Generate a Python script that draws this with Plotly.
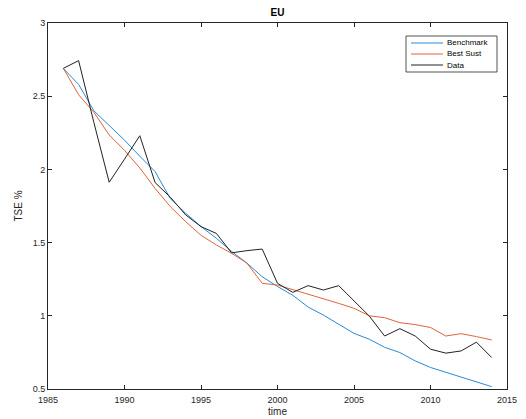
import plotly.graph_objects as go

years = list(range(1986, 2015))
benchmark = [2.69, 2.58, 2.40, 2.30, 2.20, 2.09, 1.985, 1.80, 1.70, 1.61, 1.53, 1.44, 1.36,
             1.267, 1.20, 1.14, 1.06, 1.005, 0.945, 0.88, 0.84, 0.785, 0.749, 0.692,
             0.647, 0.613, 0.584, 0.55, 0.516]
best_sust = [2.69, 2.51, 2.39, 2.235, 2.13, 2.01, 1.87, 1.745, 1.643, 1.55, 1.484, 1.427, 1.36,
             1.222, 1.21, 1.18, 1.149, 1.12, 1.085, 1.051, 1.0, 0.987, 0.953, 0.94,
             0.92, 0.862, 0.878, 0.858, 0.835]
data = [2.69, 2.743, 2.32, 1.912, 2.07, 2.23, 1.91, 1.81, 1.689, 1.609, 1.563, 1.43, 1.445,
        1.456, 1.222, 1.16, 1.206, 1.176, 1.206, 1.105, 0.998, 0.862, 0.912, 0.862,
        0.772, 0.745, 0.76, 0.82, 0.715]

series_names = ["Benchmark", "Best Sust", "Data"]
series_colors = ["#2a8ad4", "#E0643A", "#222222"]

x_ticks = [1985, 1990, 1995, 2000, 2005, 2010, 2015]
y_ticks = [0.5, 1, 1.5, 2, 2.5, 3]
y_tick_text = ["0.5", "1", "1.5", "2", "2.5", "3"]

fig = go.Figure()
for name, vals, col in zip(series_names, [benchmark, best_sust, data], series_colors):
    fig.add_trace(go.Scatter(x=years, y=vals, mode="lines", name=name,
                             line=dict(color=col, width=1), showlegend=False))

axis_common = dict(showgrid=False, zeroline=False, showline=True, linecolor="#262626",
                   linewidth=1, mirror="ticks", ticks="inside", ticklen=4, automargin=False,
                   tickcolor="#262626", tickfont=dict(size=9, color="#262626",
                                                      family="Liberation Sans, Arial"))

# compact MATLAB-style legend box (pixel layout -> paper coords)
L, R, T, B = 48, 507, 23, 389
def px(x):
    return (x - L) / (R - L)
def py(y):
    return (B - y) / (B - T)

shapes = [dict(type="rect", xref="paper", yref="paper", x0=px(406), x1=px(497),
               y0=py(72), y1=py(36), line=dict(color="#262626", width=0.8),
               fillcolor="white", layer="above")]
annotations = []
row_y = [43, 54, 65]
for name, col, ry in zip(series_names, series_colors, row_y):
    shapes.append(dict(type="line", xref="paper", yref="paper", x0=px(411), x1=px(443),
                       y0=py(ry), y1=py(ry), line=dict(color=col, width=1), layer="above"))
    annotations.append(dict(text=name, xref="paper", yref="paper", x=px(445), y=py(ry),
                            xanchor="left", yanchor="middle", showarrow=False,
                            font=dict(size=8, color="#000000", family="Liberation Sans, Arial")))

fig.update_layout(
    width=526, height=419,
    margin=dict(l=L, r=526 - R, t=T, b=419 - B),
    paper_bgcolor="white", plot_bgcolor="white",
    font=dict(family="Liberation Sans, Arial", color="#262626"),
    title=dict(text="<b>EU</b>", x=(L + R) / 2 / 526, xanchor="center",
               y=1 - 12 / 419, yanchor="middle", font=dict(size=10, color="#000000")),
    xaxis=dict(range=[1985, 2015], tickvals=x_ticks, ticktext=[str(t) for t in x_ticks],
               ticklabelstandoff=2,
               title=dict(text="time", font=dict(size=10), standoff=4), **axis_common),
    yaxis=dict(range=[0.5, 3], tickvals=y_ticks, ticktext=y_tick_text,
               title=dict(text="TSE %", font=dict(size=10), standoff=8), **axis_common),
    shapes=shapes,
    annotations=annotations,
    showlegend=False,
)

fig.write_html("out.html")
